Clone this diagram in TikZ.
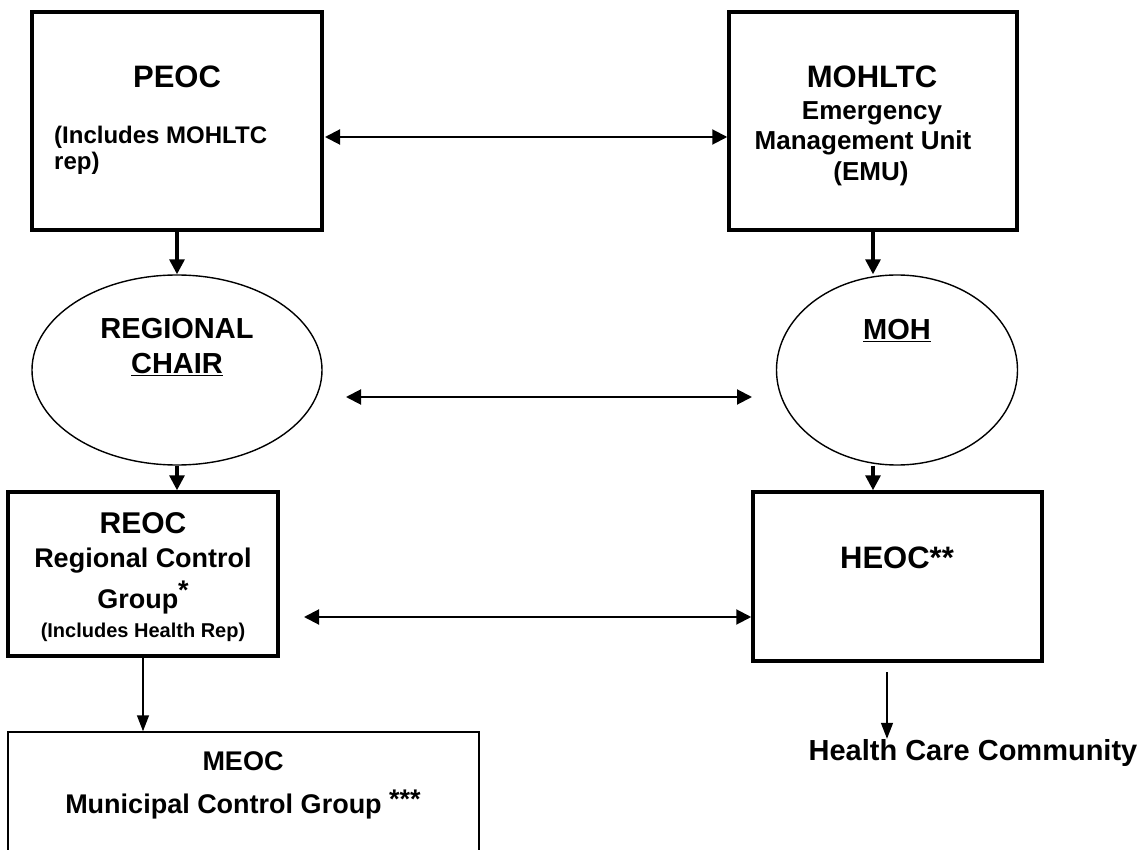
\documentclass[tikz,border=0pt]{standalone}
\usepackage{fontspec}
\setmainfont{Liberation Sans}
\usetikzlibrary{arrows.meta,shapes.geometric}
\begin{document}
\begin{tikzpicture}[
    x=1pt, y=-1pt,
    box/.style={%
      draw,
      rectangle,
      line width=3.5pt,
      inner sep=0pt,
    },
    thinbox/.style={%
      draw,
      rectangle,
      line width=1.5pt,
      inner sep=0pt,
    },
    oval/.style={%
      draw,
      ellipse,
      line width=1.4pt,
      inner sep=0pt,
    },
    txt/.style={font=\fontsize{#1}{#1}\selectfont\bfseries, inner sep=0pt, anchor=base},
    down/.style={-{Triangle[length=15pt,width=15pt]}, line width=3.2pt},
    both/.style={{Triangle[length=15pt,width=15pt]}-{Triangle[length=15pt,width=15pt]}, line width=2pt},
    thin/.style={-{Triangle[length=16pt,width=12pt]}, line width=1.5pt},
  ]
    \useasboundingbox (0,0) rectangle (1144,850);
    \clip (0,0) rectangle (1144,850);
    % boxes and ovals
    \node [box, minimum width=290pt, minimum height=218pt] (peoc) at (177,121) {};
    \node [box, minimum width=288pt, minimum height=218pt] (mohltc) at (873,121) {};
    \node [oval, minimum width=290pt, minimum height=190pt] (regChair) at (177,370) {};
    \node [oval, minimum width=241pt, minimum height=190pt] (moh) at (897,370) {};
    \node [box, minimum width=270pt, minimum height=164pt] (reoc) at (143,574) {};
    \node [box, minimum width=289pt, minimum height=169pt] (heoc) at (897.5,576.5) {};
    \node [thinbox, minimum width=471pt, minimum height=150pt] (meoc) at (243.5,807) {};
    % texts
    \node [txt=31] (peocTitle) at (177,88) {PEOC};
    \node [txt=24, anchor=base west] (peocNote) at (54,144) {(Includes MOHLTC};
    \node [txt=24, anchor=base west] (peocRep) at (54,170) {rep)};
    \node [txt=31] (mohltcTitle) at (872,88) {MOHLTC};
    \node [txt=26] (mohltcEm) at (872,120) {Emergency};
    \node [txt=26] (mohltcMan) at (863,150) {Management Unit};
    \node [txt=26] (mohltcEmu) at (871,181) {(EMU)};
    \node [txt=29] (chairTop) at (177,339) {REGIONAL};
    \node [txt=29] (chairBot) at (177,374) {\underline{CHAIR}};
    \node [txt=29] (mohTitle) at (897,340) {\underline{MOH}};
    \node [txt=30] (reocTitle) at (143,533) {REOC};
    \node [txt=27] (reocReg) at (143,567) {Regional Control};
    \node [txt=27] (reocGrp) at (143,608) {Group\raisebox{0.3em}{*}};
    \node [txt=20] (reocNote) at (143,637) {(Includes Health Rep)};
    \node [txt=31] (heocTitle) at (897,568) {HEOC**};
    \node [txt=29] (hcc) at (973,760) {Health Care Community};
    \node [txt=27] (meocTitle) at (243,770) {MEOC};
    \node [txt=27] (meocMun) at (243,813) {Municipal Control Group \raisebox{0.15em}{***}};
    % free ends
    \coordinate (topLeft) at (325,137);
    \coordinate (midLeft) at (346,397);
    \coordinate (midRight) at (752,397);
    \coordinate (lowLeft) at (304,617);
    \coordinate (mohDown) at (873,0);
    \coordinate (heocDown) at (887,672);
    % connectors
    \draw [down] (peoc) -- (regChair);
    \draw [down] (mohltc.south) -- (mohltc.south |- moh.north);
    \draw [down] (regChair.south) -- (regChair.south |- reoc.north);
    \draw [down] (mohDown |- moh.south) -- (mohDown |- heoc.north);
    \draw [both] (topLeft) -- (topLeft -| mohltc.west);
    \draw [both] (midLeft) -- (midRight);
    \draw [both] (lowLeft) -- (lowLeft -| heoc.west);
    \draw [thin] (reoc.south) -- (reoc.south |- meoc.north);
    \draw [thin] (heocDown) -- (heocDown |- hcc.north);
\end{tikzpicture}
\end{document}
